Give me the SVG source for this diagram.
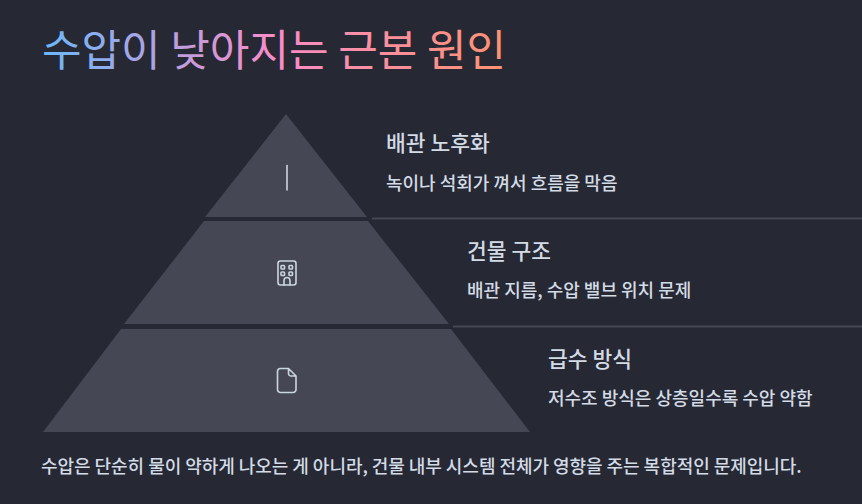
<svg xmlns="http://www.w3.org/2000/svg" width="862" height="504" viewBox="0 0 862 504">
<style>
text{font-family:"Noto Sans CJK KR","Noto Sans",sans-serif}
.tier{fill:#454854}
.rule{stroke:#454854;stroke-width:2;fill:none}
.ic{fill:none;stroke:#cbd5e1;stroke-width:1.6;stroke-linejoin:round;stroke-linecap:round}
.h{font-size:21.500px;font-weight:500;fill:#d3dbe6}
.d{font-size:18px;font-weight:500;fill:#d3dbe6}
</style>
<defs><linearGradient id="g" gradientUnits="userSpaceOnUse" x1="42" y1="0" x2="505" y2="0"><stop offset="0" stop-color="#6ab8fc"/><stop offset="0.5" stop-color="#f98cc8"/><stop offset="1" stop-color="#ff9270"/></linearGradient></defs>
<rect width="862" height="504" fill="#262833"/>
<text x="42" y="66" font-size="43" font-weight="400" fill="url(#g)">수압이 낮아지는 근본 원인</text>
<g id="connectors">
<line class="rule" x1="372" y1="218.500" x2="862" y2="218.500"/>
<line class="rule" x1="453" y1="326.500" x2="862" y2="326.500"/>
</g>
<g id="tier1">
<polygon class="tier" points="286,114 367,217 205,217"/>
<line class="ic" x1="287" y1="165.500" x2="287" y2="190"/>
<text class="h" x="386" y="151">배관 노후화</text>
<text class="d" x="386" y="190">녹이나 석회가 껴서 흐름을 막음</text>
</g>
<g id="tier2">
<polygon class="tier" points="204,221 368,221 449,324 124,324"/>
<rect class="ic" x="278" y="261" width="18" height="24" rx="2.500"/>
<rect class="ic" x="281" y="265.500" width="3.500" height="3.500" rx=".8"/>
<rect class="ic" x="289" y="265.500" width="3.500" height="3.500" rx=".8"/>
<rect class="ic" x="281" y="272" width="3.500" height="3.500" rx=".8"/>
<rect class="ic" x="289" y="272" width="3.500" height="3.500" rx=".8"/>
<path class="ic" d="M284 285v-4.500a3 3 0 0 1 6 0v4.500"/>
<text class="h" x="467" y="259">건물 구조</text>
<text class="d" x="467" y="297">배관 지름, 수압 밸브 위치 문제</text>
</g>
<g id="tier3">
<polygon class="tier" points="121,329 451,329 530,432 43,432"/>
<path class="ic" d="M280.500 368.500H288.500L296 376V389.500a3 3 0 0 1-3 3H280.500a3 3 0 0 1-3-3V371.500a3 3 0 0 1 3-3ZM288.500 368.500V373.500a2.500 2.500 0 0 0 2.500 2.500H296"/>
<text class="h" x="548" y="367">급수 방식</text>
<text class="d" x="548" y="405">저수조 방식은 상층일수록 수압 약함</text>
</g>
<text x="41" y="473" font-size="18" font-weight="500" letter-spacing="-0.040" fill="#d3dbe6">수압은 단순히 물이 약하게 나오는 게 아니라, 건물 내부 시스템 전체가 영향을 주는 복합적인 문제입니다.</text>
</svg>
